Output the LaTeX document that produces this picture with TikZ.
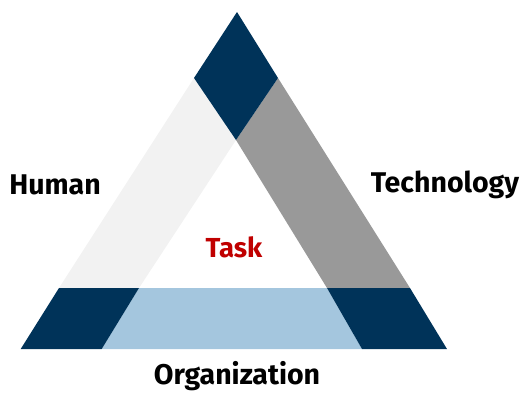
\documentclass[tikz,border=0pt]{standalone}
\usepackage{fontspec}
\setmainfont{Fira Sans}
\usepackage{tikz}

\definecolor{navy}{RGB}{0,51,89}
\definecolor{steel}{RGB}{164,198,222}
\definecolor{midgray}{RGB}{153,153,153}
\definecolor{palegray}{RGB}{242,242,242}
\definecolor{taskred}{RGB}{192,0,0}

\begin{document}
\begin{tikzpicture}[x=1pt,y=-1pt,
    label/.style={font=\fontsize{28.5}{31}\selectfont\bfseries, inner sep=0pt}]
  \useasboundingbox (0,0) rectangle (523,392);

  % Seitenbaender
  \fill[palegray] (194,78) -- (236,140) -- (139,288) -- (59,288) -- cycle;
  \fill[midgray] (278,78) -- (410,288) -- (327,288) -- (236,140) -- cycle;
  \fill[steel] (139,288) -- (327,288) -- (362,349) -- (101.7,349) -- cycle;

  % Ecken
  \fill[navy] (237,12) -- (278,78) -- (236,140) -- (194,78) -- cycle;
  \fill[navy] (59,288) -- (139,288) -- (101.7,349) -- (20.7,349) -- cycle;
  \fill[navy] (327,288) -- (410,288) -- (447,349) -- (362,349) -- cycle;

  % Beschriftungen
  \node[label] (human) at (55,185) {Human};
  \node[label] (tech) at (445,185) {Technology};
  \node[label, anchor=base] (org) at (237,384) {Organization};
  \node[label, text=taskred, font=\fontsize{27.5}{30}\selectfont\bfseries] (task) at (234,247) {Task};
\end{tikzpicture}
\end{document}
